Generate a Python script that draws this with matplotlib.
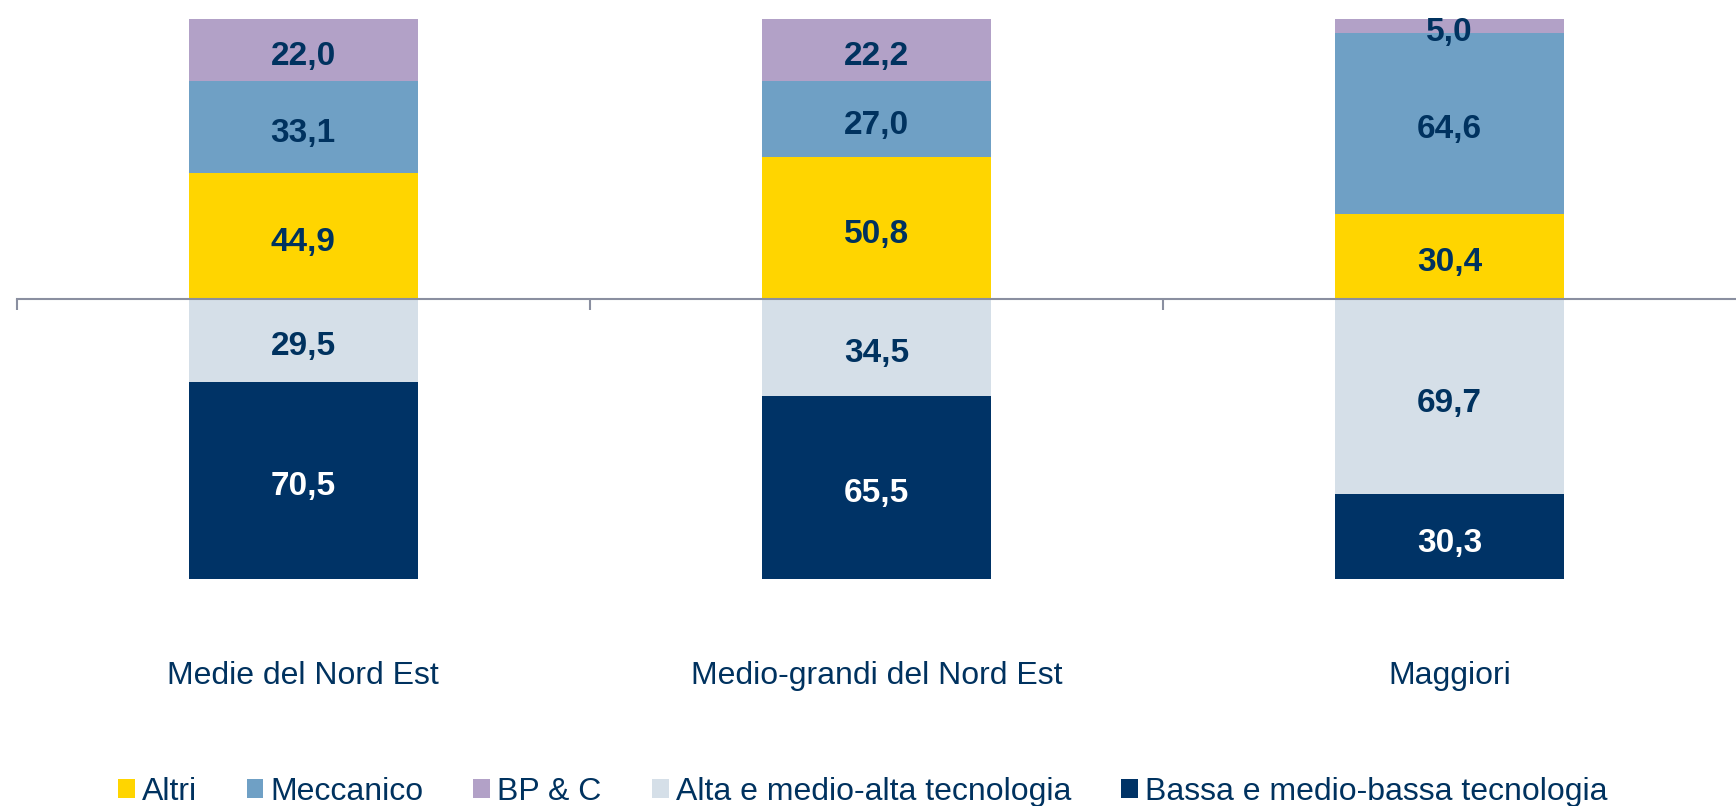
import matplotlib
matplotlib.use("Agg")
import matplotlib.pyplot as plt
import matplotlib.transforms as mtransforms
from matplotlib.patches import Patch
import numpy as np

plt.rcParams['font.family'] = ['Liberation Sans', 'DejaVu Sans']

categories = ['Medie del Nord Est', 'Medio-grandi del Nord Est', 'Maggiori']

# above the axis (stacked upwards)
altri = [44.9, 50.8, 30.4]
meccanico = [33.1, 27.0, 64.6]
bpc = [22.0, 22.2, 5.0]
# below the axis (stacked downwards)
alta = [29.5, 34.5, 69.7]
bassa = [70.5, 65.5, 30.3]

navy = '#00325F'
c_altri = '#FFD500'
c_mecc = '#6FA0C5'
c_bpc = '#B2A1C7'
c_alta = '#D5DFE8'
c_bassa = '#003366'

fig = plt.figure(figsize=(17.36, 8.06), dpi=100)
ax = fig.add_axes([16.6 / 1736, 1 - 579 / 806, 1 - 16.6 / 1736, (579 - 19) / 806])

x = np.arange(len(categories))
w = 0.4

# small downward nudge so the digits sit like in the original
lab_trans = mtransforms.offset_copy(ax.transData, fig=fig, x=0, y=-6.5, units='dots')

up = [(altri, c_altri, navy), (meccanico, c_mecc, navy), (bpc, c_bpc, navy)]
down = [(alta, c_alta, navy), (bassa, c_bassa, 'white')]

bottom = np.zeros(len(x))
for vals, col, tcol in up:
    v = np.array(vals)
    ax.bar(x, v, w, bottom=bottom, color=col, edgecolor='none')
    for xi, b, vi in zip(x, bottom, v):
        ax.text(xi, b + vi / 2, f'{vi:.1f}'.replace('.', ','), ha='center', va='center',
                fontsize=24, fontweight='bold', color=tcol, transform=lab_trans)
    bottom = bottom + v

bottom = np.zeros(len(x))
for vals, col, tcol in down:
    v = np.array(vals)
    ax.bar(x, -v, w, bottom=bottom, color=col, edgecolor='none')
    for xi, b, vi in zip(x, bottom, v):
        ax.text(xi, b - vi / 2, f'{vi:.1f}'.replace('.', ','), ha='center', va='center',
                fontsize=24, fontweight='bold', color=tcol, transform=lab_trans)
    bottom = bottom - v

ax.set_xlim(-0.5, len(x) - 0.5)
ax.set_ylim(-100, 100)
for s in ['top', 'right', 'left']:
    ax.spines[s].set_visible(False)
ax.spines['bottom'].set_position(('data', 0))
ax.spines['bottom'].set_color('#8A8FA0')
ax.spines['bottom'].set_linewidth(1.5)
ax.set_yticks([])
ax.set_xticks(np.arange(len(x)) - 0.5)
ax.set_xticklabels([])
ax.tick_params(axis='x', direction='out', length=8, width=1.5, color='#8A8FA0')

trans = mtransforms.blended_transform_factory(ax.transData, fig.transFigure)
for xi, name in zip(x, categories):
    ax.text(xi, 1 - 676 / 806, name, transform=trans,
            ha='center', va='center', fontsize=23, color=navy)

labels = ['Altri', 'Meccanico', 'BP & C', 'Alta e medio-alta tecnologia', 'Bassa e medio-bassa tecnologia']
colors = [c_altri, c_mecc, c_bpc, c_alta, c_bassa]
handles = [Patch(facecolor=c, edgecolor='none') for c in colors]
leg = fig.legend(handles, labels, loc='center', bbox_to_anchor=(0.4968, 1 - 792 / 806), ncol=5,
                 frameon=False, fontsize=23, handlelength=0.53, handleheight=0.53,
                 handletextpad=0.22, columnspacing=1.56)
for t in leg.get_texts():
    t.set_color(navy)

fig.savefig('out.png', dpi=100)
